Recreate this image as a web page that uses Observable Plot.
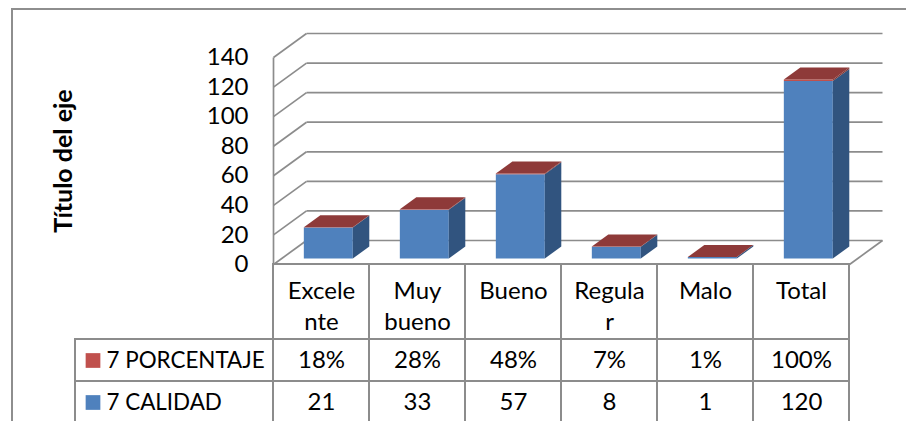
<!DOCTYPE html>
<html><head><meta charset="utf-8">
<script src="https://cdn.jsdelivr.net/npm/d3@7"></script>
<script src="https://cdn.jsdelivr.net/npm/@observablehq/plot@0.6"></script>
<style>
body{margin:0;background:#fff;}
#wrap{position:relative;width:906px;height:421px;overflow:hidden;font-family:Lato,sans-serif;background:#fff}
#wrap svg{position:absolute;left:0;top:0;overflow:visible}
#border{position:absolute;left:11px;top:8px;width:940px;height:440px;border:2px solid #8e8e8e;box-sizing:border-box}
</style></head><body><div id="wrap"><div id="border"></div></div>
<script>
// ---- data ----
const categories = ["Excelente","Muy bueno","Bueno","Regular","Malo","Total"];
const categoryLabels = ["Excele\nnte","Muy\nbueno","Bueno","Regula\nr","Malo","Total"];
const seriesNames = ["7 PORCENTAJE","7 CALIDAD"];
const porcentaje = [18,28,48,7,1,100];
const calidad = [21,33,57,8,1,120];
const yTicks = [0,20,40,60,80,100,120,140];
const axisTitle = "Título del eje";

// ---- layout / style ----
const W = 906, H = 421;
const DX = 33/96, DY = 24*140/207;   // full depth offset in data units
const Z0 = 0.25, Z1 = 0.75, BW = 0.51;
const GRID = "#8c8c8c";
const FONT = "Lato, sans-serif";
const FS = 24;
const faceColors = {
  "7 CALIDAD":    {front:"#4F81BD", side:"#31547F", top:"#3B6396", legend:"#4F81BD"},
  "7 PORCENTAJE": {front:"#C0504D", side:"#7F3533", top:"#8E3A39", legend:"#C0504D"}
};

// build 3D faces of stacked columns (calidad bottom, porcentaje as fraction on top)
const faces = [];
categories.forEach((c, i) => {
  const stack = [["7 CALIDAD", calidad[i]], ["7 PORCENTAJE", porcentaje[i]/100]];
  let base = 0;
  stack.forEach(([s, v], k) => {
    const xl = i + 0.5 - BW/2 + Z0*DX - 0.015, xr = xl + BW;
    const y1 = base + Z0*DY, y2 = base + v + Z0*DY;
    const ddx = (Z1 - Z0)*DX, ddy = (Z1 - Z0)*DY;
    const col = faceColors[s];
    const push = (id, pts, fill) => pts.forEach(([x, y]) => faces.push({id, x, y, fill}));
    push(`${c}-${s}-front`, [[xl,y1],[xr,y1],[xr,y2],[xl,y2]], col.front);
    push(`${c}-${s}-side`, [[xr,y1],[xr,y2],[xr+ddx,y2+ddy],[xr+ddx,y1+ddy]], col.side);
    if (k === stack.length - 1)
      push(`${c}-${s}-top`, [[xl,y2],[xr,y2],[xr+ddx,y2+ddy],[xl+ddx,y2+ddy]], col.top);
    base += v;
  });
});

const n = categories.length;
const chart = Plot.plot({
  width: W, height: H,
  marginLeft: 273, marginRight: W - 849, marginTop: 57, marginBottom: H - 264,
  style: {fontFamily: FONT, fontSize: FS + "px", color: "#000", background: "transparent", overflow: "visible"},
  x: {domain: [0, n], axis: null},
  y: {domain: [0, 140], ticks: yTicks, tickSize: 0, tickPadding: 25, label: null},
  color: {type: "identity"},
  marks: [
    // back wall gridlines
    Plot.link(yTicks, {x1: () => DX, x2: () => n + DX, y1: t => t + DY, y2: t => t + DY, stroke: GRID, strokeWidth: 1.7}),
    // left wall diagonals
    Plot.link(yTicks, {x1: () => 0, x2: () => DX, y1: t => t, y2: t => t + DY, stroke: GRID, strokeWidth: 1.7}),
    // front-left vertical edge
    Plot.link([0], {x1: () => 0, x2: () => 0, y1: () => 0, y2: () => 140, stroke: GRID, strokeWidth: 1.7}),
    // floor right edge
    Plot.link([0], {x1: () => n, x2: () => n + DX, y1: () => 0, y2: () => DY, stroke: GRID, strokeWidth: 1.7}),
    // 3D columns
    Plot.line(faces, {x: "x", y: "y", z: "id", fill: "fill", stroke: "none"}),
    // axis title
    Plot.text([axisTitle], {frameAnchor: "left", dx: -210, rotate: -90, textAnchor: "middle", fontWeight: "bold", fontSize: 25, text: d => d})
  ]
});
document.getElementById("wrap").appendChild(chart);

// ---- data table ----
const rowH = [75, 42, 42];
const rowTop = [0, 75, 117];
const rowValues = [porcentaje.map(v => v + "%"), calidad.map(String)];
const cells = [];
categories.forEach((c, i) => cells.push({x1: i, x2: i + 1, y1: rowTop[0], y2: rowTop[0] + rowH[0]}));
seriesNames.forEach((s, r) => {
  cells.push({x1: -2.0625, x2: 0, y1: rowTop[r+1], y2: rowTop[r+1] + rowH[r+1]});
  categories.forEach((c, i) => cells.push({x1: i, x2: i + 1, y1: rowTop[r+1], y2: rowTop[r+1] + rowH[r+1]}));
});
const valueTexts = [];
seriesNames.forEach((s, r) => rowValues[r].forEach((t, i) => valueTexts.push({x: i + 0.5, y: rowTop[r+1] + rowH[r+1]/2, t})));
const legendRows = seriesNames.map((s, r) => ({s, y: rowTop[r+1] + rowH[r+1]/2, color: faceColors[s].legend}));

const table = Plot.plot({
  width: W, height: 423,
  style: {fontFamily: FONT, fontSize: FS + "px", color: "#000", background: "transparent", overflow: "visible"},
  x: {domain: [-2.0625, n], range: [75, 849], axis: null},
  y: {domain: [0, 159], range: [264, 423], axis: null},
  color: {type: "identity"},
  marks: [
    Plot.rect(cells, {x1: "x1", x2: "x2", y1: "y1", y2: "y2", fill: "none", stroke: GRID, strokeWidth: 2}),
    Plot.text(categoryLabels, {x: (d, i) => i + 0.5, y: () => 12, text: d => d, lineAnchor: "top", lineHeight: 1.3}),
    Plot.text(valueTexts, {x: "x", y: "y", text: "t"}),
    Plot.dot(legendRows, {x: () => -2.0625, y: "y", dx: 17.5, symbol: "square", r: 8.3, fill: "color", stroke: "none"}),
    Plot.text(legendRows, {x: () => -2.0625, y: "y", dx: 31, text: "s", textAnchor: "start", fontSize: 22.4})
  ]
});
document.getElementById("wrap").appendChild(table);
</script>
</body></html>
